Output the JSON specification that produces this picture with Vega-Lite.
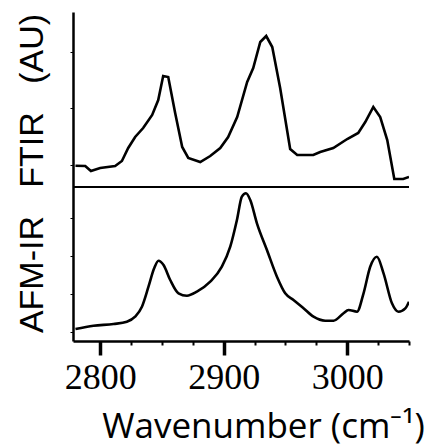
{
  "$schema": "https://vega.github.io/schema/vega-lite/v6.json",
  "width": 336,
  "height": 329,
  "autosize": {"type": "none"},
  "padding": {"left": 73, "top": 12, "right": 23, "bottom": 106},
  "background": "white",
  "config": {
    "view": {"stroke": null},
    "axis": {"grid": false, "titleFontWeight": "normal", "titleColor": "black", "labelColor": "black", "tickColor": "black", "domainColor": "black"},
    "axisX": {
      "labelFont": "Liberation Serif", "labelFontSize": 36,
      "labelBaseline": "alphabetic", "labelPadding": 33,
      "titleFont": "Open Sans", "titleFontSize": 35,
      "titleAlign": "center", "titleBaseline": "alphabetic"
    },
    "axisY": {
      "titleFont": "Liberation Sans", "titleFontSize": 34,
      "titleAngle": 270, "titleAlign": "center", "titleBaseline": "alphabetic"
    }
  },
  "datasets": {
    "spectra": [
      {"series": "FTIR", "wn": 2780, "au": 1.753},
      {"series": "FTIR", "wn": 2787.9, "au": 1.75},
      {"series": "FTIR", "wn": 2792.5, "au": 1.70},
      {"series": "FTIR", "wn": 2800, "au": 1.73},
      {"series": "FTIR", "wn": 2812.1, "au": 1.75},
      {"series": "FTIR", "wn": 2817.6, "au": 1.80},
      {"series": "FTIR", "wn": 2822.7, "au": 1.93},
      {"series": "FTIR", "wn": 2828.3, "au": 2.04},
      {"series": "FTIR", "wn": 2834.8, "au": 2.13},
      {"series": "FTIR", "wn": 2842.1, "au": 2.26},
      {"series": "FTIR", "wn": 2847.0, "au": 2.41},
      {"series": "FTIR", "wn": 2851.0, "au": 2.65},
      {"series": "FTIR", "wn": 2855.1, "au": 2.64},
      {"series": "FTIR", "wn": 2860.7, "au": 2.28},
      {"series": "FTIR", "wn": 2866.4, "au": 1.94},
      {"series": "FTIR", "wn": 2871.3, "au": 1.83},
      {"series": "FTIR", "wn": 2881.0, "au": 1.79},
      {"series": "FTIR", "wn": 2889.1, "au": 1.85},
      {"series": "FTIR", "wn": 2897.2, "au": 1.93},
      {"series": "FTIR", "wn": 2903.6, "au": 2.04},
      {"series": "FTIR", "wn": 2910.9, "au": 2.24},
      {"series": "FTIR", "wn": 2919.0, "au": 2.59},
      {"series": "FTIR", "wn": 2923.9, "au": 2.73},
      {"series": "FTIR", "wn": 2929.6, "au": 2.99},
      {"series": "FTIR", "wn": 2934.4, "au": 3.05},
      {"series": "FTIR", "wn": 2939.3, "au": 2.94},
      {"series": "FTIR", "wn": 2945.7, "au": 2.53},
      {"series": "FTIR", "wn": 2953.8, "au": 1.92},
      {"series": "FTIR", "wn": 2959.5, "au": 1.86},
      {"series": "FTIR", "wn": 2972.5, "au": 1.86},
      {"series": "FTIR", "wn": 2978.1, "au": 1.89},
      {"series": "FTIR", "wn": 2988.7, "au": 1.93},
      {"series": "FTIR", "wn": 3000.0, "au": 2.02},
      {"series": "FTIR", "wn": 3008.9, "au": 2.08},
      {"series": "FTIR", "wn": 3014.6, "au": 2.19},
      {"series": "FTIR", "wn": 3021.1, "au": 2.34},
      {"series": "FTIR", "wn": 3026.7, "au": 2.24},
      {"series": "FTIR", "wn": 3032.4, "au": 2.01},
      {"series": "FTIR", "wn": 3038.1, "au": 1.62},
      {"series": "FTIR", "wn": 3045.3, "au": 1.62},
      {"series": "FTIR", "wn": 3050, "au": 1.64},
      {"series": "AFM-IR", "wn": 2780, "au": 0.12},
      {"series": "AFM-IR", "wn": 2794.6, "au": 0.153},
      {"series": "AFM-IR", "wn": 2810.8, "au": 0.17},
      {"series": "AFM-IR", "wn": 2821.6, "au": 0.193},
      {"series": "AFM-IR", "wn": 2828.3, "au": 0.243},
      {"series": "AFM-IR", "wn": 2833.8, "au": 0.343},
      {"series": "AFM-IR", "wn": 2839.1, "au": 0.543},
      {"series": "AFM-IR", "wn": 2843.7, "au": 0.727},
      {"series": "AFM-IR", "wn": 2847.2, "au": 0.803},
      {"series": "AFM-IR", "wn": 2851.3, "au": 0.76},
      {"series": "AFM-IR", "wn": 2856.7, "au": 0.61},
      {"series": "AFM-IR", "wn": 2863.4, "au": 0.477},
      {"series": "AFM-IR", "wn": 2870.2, "au": 0.453},
      {"series": "AFM-IR", "wn": 2878.3, "au": 0.493},
      {"series": "AFM-IR", "wn": 2889.1, "au": 0.593},
      {"series": "AFM-IR", "wn": 2898.5, "au": 0.743},
      {"series": "AFM-IR", "wn": 2905.3, "au": 0.943},
      {"series": "AFM-IR", "wn": 2910.7, "au": 1.21},
      {"series": "AFM-IR", "wn": 2914.7, "au": 1.443},
      {"series": "AFM-IR", "wn": 2918.0, "au": 1.477},
      {"series": "AFM-IR", "wn": 2921.5, "au": 1.41},
      {"series": "AFM-IR", "wn": 2926.9, "au": 1.177},
      {"series": "AFM-IR", "wn": 2935.0, "au": 0.91},
      {"series": "AFM-IR", "wn": 2943.1, "au": 0.643},
      {"series": "AFM-IR", "wn": 2949.8, "au": 0.477},
      {"series": "AFM-IR", "wn": 2956.5, "au": 0.41},
      {"series": "AFM-IR", "wn": 2964.6, "au": 0.327},
      {"series": "AFM-IR", "wn": 2972.7, "au": 0.243},
      {"series": "AFM-IR", "wn": 2982.2, "au": 0.203},
      {"series": "AFM-IR", "wn": 2988.9, "au": 0.203},
      {"series": "AFM-IR", "wn": 2997.0, "au": 0.277},
      {"series": "AFM-IR", "wn": 3001.0, "au": 0.31},
      {"series": "AFM-IR", "wn": 3007.9, "au": 0.293},
      {"series": "AFM-IR", "wn": 3013.2, "au": 0.477},
      {"series": "AFM-IR", "wn": 3018.6, "au": 0.743},
      {"series": "AFM-IR", "wn": 3024.0, "au": 0.843},
      {"series": "AFM-IR", "wn": 3029.4, "au": 0.677},
      {"series": "AFM-IR", "wn": 3036.2, "au": 0.377},
      {"series": "AFM-IR", "wn": 3041.5, "au": 0.293},
      {"series": "AFM-IR", "wn": 3047.0, "au": 0.327},
      {"series": "AFM-IR", "wn": 3050, "au": 0.393}
    ],
    "separator": [{"au": 1.54}]
  },
  "resolve": {"axis": {"x": "independent"}},
  "layer": [
    {
      "layer": [
        {
          "data": {"name": "spectra"},
          "transform": [{"filter": "datum.series === 'FTIR'"}],
          "mark": {"type": "line", "color": "black", "strokeWidth": 2.6, "clip": true},
          "encoding": {
            "x": {
              "field": "wn", "type": "quantitative",
              "scale": {"domain": [2778, 3050], "nice": false, "zero": false},
              "axis": {
                "orient": "bottom",
                "values": [2825, 2850, 2875, 2925, 2950, 2975, 3025, 3050],
                "labels": false, "title": null,
                "domainWidth": 2.5, "tickSize": 4, "tickWidth": 2
              }
            },
            "y": {
              "field": "au", "type": "quantitative",
              "scale": {"domain": [0, 3.29], "nice": false, "zero": false},
              "axis": {
                "values": [0.09, 0.47, 0.85, 1.23, 1.76, 2.33, 2.89],
                "labels": false,
                "domainWidth": 2.5, "tickSize": 3, "tickWidth": 1,
                "title": "AFM-IR\u00a0\u00a0\u00a0FTIR\u00a0\u00a0\u00a0(AU)",
                "titleX": -31, "titleY": 161
              }
            }
          }
        },
        {
          "data": {"name": "separator"},
          "mark": {"type": "rule", "color": "black", "strokeWidth": 2.2},
          "encoding": {"y": {"field": "au", "type": "quantitative"}}
        }
      ]
    },
    {
      "data": {"name": "spectra"},
      "transform": [{"filter": "datum.series === 'AFM-IR'"}],
      "mark": {"type": "line", "color": "black", "strokeWidth": 2.6, "interpolate": "monotone", "clip": true},
      "encoding": {
        "x": {
          "field": "wn", "type": "quantitative",
          "axis": {
            "orient": "bottom",
            "values": [2800, 2900, 3000],
            "format": "d",
            "domain": false,
            "tickSize": 14, "tickWidth": 3.5,
            "title": "Wavenumber (cm⁻¹)",
            "titleX": 190, "titleY": 96
          }
        },
        "y": {"field": "au", "type": "quantitative"}
      }
    }
  ]
}
